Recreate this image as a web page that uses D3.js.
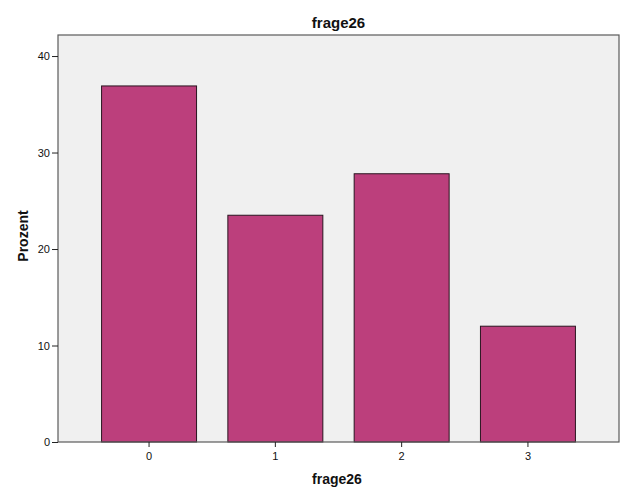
<!DOCTYPE html>
<html><head><meta charset="utf-8">
<script src="https://cdn.jsdelivr.net/npm/d3@7"></script>
<style>body{margin:0;background:#fff;} text{font-family:"Liberation Sans",Arial,sans-serif;}</style>
</head><body><svg id="c" width="626" height="501"></svg>
<script>
const categories = ["0","1","2","3"];
const values = [36.9, 23.5, 27.8, 12.0];
const yTicks = [0,10,20,30,40];
const title = "frage26", xLabel = "frage26", yLabel = "Prozent";

const svg = d3.select("#c");
const L=58, R=619, T=35, B=442;
const x = d3.scaleBand().domain(categories).range([L,R]).paddingInner(0.248).paddingOuter(0.345);
const y = d3.scaleLinear().domain([0,42.18]).range([B,T]);

svg.append("rect").attr("x",L).attr("y",T).attr("width",R-L).attr("height",B-T).attr("fill","#f0f0f0");

svg.selectAll(".bar").data(values).enter().append("rect")
  .attr("x",(d,i)=>x(categories[i])).attr("y",d=>y(d))
  .attr("width",x.bandwidth()).attr("height",d=>B-y(d))
  .attr("fill","#bc3f7c").attr("stroke","#2a1520").attr("stroke-width",1);

svg.append("rect").attr("x",L).attr("y",T).attr("width",R-L).attr("height",B-T)
  .attr("fill","none").attr("stroke","#5a5a5a").attr("stroke-width",1.2);

const ya = svg.append("g").attr("transform",`translate(${L},0)`)
  .call(d3.axisLeft(y).tickValues(yTicks).tickSize(6).tickPadding(2).tickFormat(d3.format("d")));
ya.select(".domain").remove();
ya.selectAll("line").attr("stroke","#222");
ya.selectAll("text").attr("font-size",11).attr("fill","#111").style("font-family","Liberation Sans, Arial");

const xa = svg.append("g").attr("transform",`translate(0,${B})`)
  .call(d3.axisBottom(x).tickSize(5).tickPadding(5));
xa.select(".domain").remove();
xa.selectAll("line").attr("stroke","#222");
xa.selectAll("text").attr("font-size",11).attr("fill","#111").style("font-family","Liberation Sans, Arial");

svg.append("text").attr("x",(L+R)/2).attr("y",28).attr("text-anchor","middle")
  .attr("font-size",15).attr("font-weight","bold").attr("fill","#111").text(title);
svg.append("text").attr("x",337).attr("y",484).attr("text-anchor","middle")
  .attr("font-size",14).attr("font-weight","bold").attr("fill","#111").text(xLabel);
svg.append("text").attr("transform",`translate(28,236) rotate(-90)`).attr("text-anchor","middle")
  .attr("font-size",14).attr("font-weight","bold").attr("fill","#111").text(yLabel);
</script></body></html>
